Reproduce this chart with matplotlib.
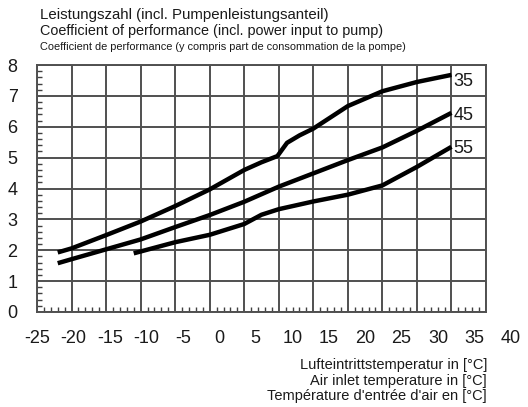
import matplotlib
matplotlib.use("Agg")
import matplotlib.pyplot as plt
from matplotlib.ticker import MultipleLocator

plt.rcParams['font.family'] = ['Liberation Sans', 'DejaVu Sans']
plt.rcParams['axes.unicode_minus'] = False

# Data
x35 = [-22, -20, -15, -10, -5, 0, 5, 7.5, 9.8, 11.2, 13, 15, 20, 25, 30, 35]
y35 = [1.93, 2.06, 2.49, 2.93, 3.43, 3.97, 4.60, 4.85, 5.05, 5.48, 5.72, 5.94, 6.67, 7.15, 7.45, 7.68]

x45 = [-22, -20, -15, -10, -5, 0, 5, 10, 15, 20, 25, 30, 35]
y45 = [1.58, 1.71, 2.03, 2.35, 2.75, 3.14, 3.57, 4.06, 4.49, 4.92, 5.33, 5.87, 6.45]

x55 = [-11, -10, -5, 0, 5, 7.5, 10, 15, 20, 25, 30, 35]
y55 = [1.90, 1.96, 2.26, 2.50, 2.85, 3.15, 3.33, 3.58, 3.80, 4.10, 4.70, 5.35]

series_labels = ["35", "45", "55"]
label_y = [7.45, 6.38, 5.30]

xticks = list(range(-25, 45, 5))
yticks = list(range(0, 9))

title_lines = ["Leistungszahl (incl. Pumpenleistungsanteil)",
               "Coefficient of performance (incl. power input to pump)",
               "Coefficient de performance (y compris part de consommation de la pompe)"]
xlabel_lines = ["Lufteintrittstemperatur in [°C]",
                "Air inlet temperature in [°C]",
                "Température d'entrée d'air en [°C]"]

W, H = 528, 407
fig = plt.figure(figsize=(W/100, H/100), dpi=100)
ax = fig.add_axes([37/W, 1-312/H, (486-37)/W, (312-65)/H])

ax.set_xlim(-25, 40)
ax.set_ylim(0, 8)
ax.set_xticks(xticks)
ax.set_yticks(yticks)
ax.set_xticklabels([])
ax.xaxis.set_minor_locator(MultipleLocator(1))
ax.yaxis.set_minor_locator(MultipleLocator(0.2))
ax.grid(True, which='major', color='#505050', linewidth=1.4)
ax.set_axisbelow(True)
ax.tick_params(which='major', length=0, labelsize=13, colors='#1a1a1a')
ax.tick_params(axis='y', which='major', pad=14)
ax.tick_params(which='minor', direction='in', length=3.5, width=1, color='#404040')
for s in ax.spines.values():
    s.set_color('#505050')
    s.set_linewidth(1.4)

for xs, ys in [(x35, y35), (x45, y45), (x55, y55)]:
    ax.plot(xs, ys, color='black', linewidth=3.2, solid_joinstyle='round',
            solid_capstyle='butt')

for lab, ly in zip(series_labels, label_y):
    ax.text(35.3, ly, lab, fontsize=13, ha='left', va='center', color='#1a1a1a')

# x tick labels: in the reference they are spread wider than the grid
lab_ax = fig.add_axes([37/W, 1-312/H, (511-37)/W, 0.001], frameon=False)
lab_ax.patch.set_visible(False)
lab_ax.set_xlim(-25, 40)
lab_ax.set_xticks(xticks)
lab_ax.set_yticks([])
lab_ax.tick_params(axis='x', length=0, labelsize=13, colors='#1a1a1a', pad=13)

# titles
fig.text(40/W, 1-15/H, title_lines[0], fontsize=10.8, ha='left', va='center', color='#1a1a1a')
fig.text(40/W, 1-31/H, title_lines[1], fontsize=10.4, ha='left', va='center', color='#1a1a1a')
fig.text(40/W, 1-47/H, title_lines[2], fontsize=7.9, ha='left', va='center', color='#1a1a1a')

for i, yy in enumerate([365, 380.5, 396]):
    fig.text(487/W, 1-yy/H, xlabel_lines[i], fontsize=10.5, ha='right', va='center',
             color='#1a1a1a')

fig.savefig("out.png", dpi=100)
